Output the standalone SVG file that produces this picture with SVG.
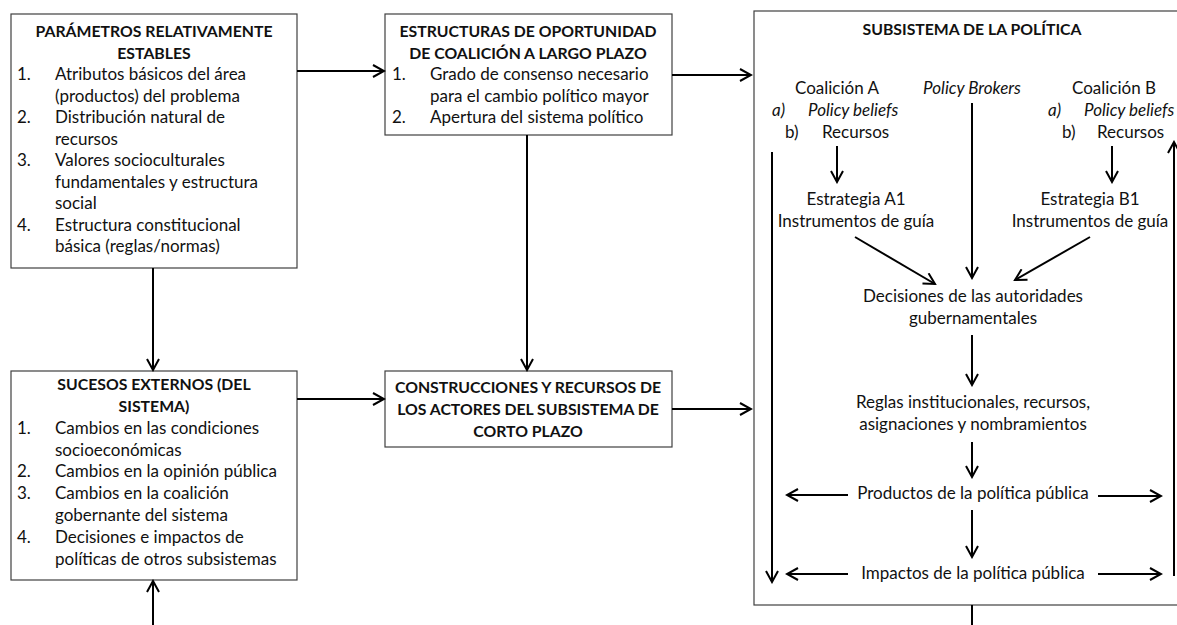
<svg xmlns="http://www.w3.org/2000/svg" width="1177" height="625" viewBox="0 0 1177 625">
<style>
text{font-family:Lato,"Liberation Sans",sans-serif;font-size:17px;fill:#111}
.b{font-weight:bold;font-size:15.8px}
.c{text-anchor:middle}
.i{font-style:italic}
.box{fill:#fff;stroke:#404040;stroke-width:1.2}
.cn{fill:none;stroke:#000;stroke-width:2;marker-end:url(#ah)}
.ln{fill:none;stroke:#000;stroke-width:2}
</style>
<defs>
<marker id="ah" viewBox="-13 -7 15 14" refX="0" refY="0" markerWidth="15" markerHeight="14" markerUnits="userSpaceOnUse" orient="auto">
<path d="M-11,-6 L0,0 L-11,6" fill="none" stroke="#000" stroke-width="2"/>
</marker>
</defs>
<rect width="1177" height="625" fill="#fff"/>

<g id="parametros">
<rect class="box" x="11" y="14" width="286" height="254"/>
<text class="b c" x="154" y="37">PARÁMETROS RELATIVAMENTE</text>
<text class="b c" x="154" y="58.5">ESTABLES</text>
<text x="17" y="80">1.</text><text x="55" y="80">Atributos básicos del área</text>
<text x="55" y="101.5">(productos) del problema</text>
<text x="17" y="123">2.</text><text x="55" y="123">Distribución natural de</text>
<text x="55" y="144.5">recursos</text>
<text x="17" y="166">3.</text><text x="55" y="166">Valores socioculturales</text>
<text x="55" y="187.5">fundamentales y estructura</text>
<text x="55" y="209">social</text>
<text x="17" y="230.5">4.</text><text x="55" y="230.5">Estructura constitucional</text>
<text x="55" y="252">básica (reglas/normas)</text>
</g>

<g id="estructuras">
<rect class="box" x="385" y="14" width="287" height="121"/>
<text class="b c" x="528" y="37">ESTRUCTURAS DE OPORTUNIDAD</text>
<text class="b c" x="528" y="58.5">DE COALICIÓN A LARGO PLAZO</text>
<text x="392" y="80">1.</text><text x="430" y="80">Grado de consenso necesario</text>
<text x="430" y="101.5">para el cambio político mayor</text>
<text x="392" y="123">2.</text><text x="430" y="123">Apertura del sistema político</text>
</g>

<g id="sucesos">
<rect class="box" x="11" y="371" width="286" height="209"/>
<text class="b c" x="154" y="390">SUCESOS EXTERNOS (DEL</text>
<text class="b c" x="154" y="412">SISTEMA)</text>
<text x="17" y="434">1.</text><text x="55" y="434">Cambios en las condiciones</text>
<text x="55" y="455.5">socioeconómicas</text>
<text x="17" y="477">2.</text><text x="55" y="477">Cambios en la opinión pública</text>
<text x="17" y="499">3.</text><text x="55" y="499">Cambios en la coalición</text>
<text x="55" y="521">gobernante del sistema</text>
<text x="17" y="543">4.</text><text x="55" y="543">Decisiones e impactos de</text>
<text x="55" y="564.5">políticas de otros subsistemas</text>
</g>

<g id="construcciones">
<rect class="box" x="385" y="371" width="287" height="76"/>
<text class="b c" x="528" y="393">CONSTRUCCIONES Y RECURSOS DE</text>
<text class="b c" x="528" y="415">LOS ACTORES DEL SUBSISTEMA DE</text>
<text class="b c" x="528" y="437">CORTO PLAZO</text>
</g>

<g id="subsistema">
<rect class="box" x="754" y="11" width="440" height="594"/>
<text class="b c" x="972" y="35">SUBSISTEMA DE LA POLÍTICA</text>
<g id="coalicionA">
<text class="c" x="837" y="94">Coalición A</text>
<text class="i" x="772" y="116">a)</text><text class="i" x="808" y="116">Policy beliefs</text>
<text x="785" y="138">b)</text><text x="822" y="138">Recursos</text>
</g>
<g id="brokers">
<text class="c i" x="972" y="94">Policy Brokers</text>
</g>
<g id="coalicionB">
<text class="c" x="1114" y="94">Coalición B</text>
<text class="i" x="1048" y="116">a)</text><text class="i" x="1084" y="116">Policy beliefs</text>
<text x="1062" y="138">b)</text><text x="1097" y="138">Recursos</text>
</g>
<g id="estrategiaA">
<text class="c" x="856" y="205">Estrategia A1</text>
<text class="c" x="856" y="227">Instrumentos de guía</text>
</g>
<g id="estrategiaB">
<text class="c" x="1090" y="205">Estrategia B1</text>
<text class="c" x="1090" y="227">Instrumentos de guía</text>
</g>
<g id="decisiones">
<text class="c" x="973" y="302">Decisiones de las autoridades</text>
<text class="c" x="973" y="324">gubernamentales</text>
</g>
<g id="reglas">
<text class="c" x="973" y="408">Reglas institucionales, recursos,</text>
<text class="c" x="973" y="430">asignaciones y nombramientos</text>
</g>
<g id="productos">
<text class="c" x="973" y="499">Productos de la política pública</text>
</g>
<g id="impactos">
<text class="c" x="973" y="579">Impactos de la política pública</text>
</g>
</g>

<g id="connectors">
<line class="cn" x1="297" y1="71" x2="384" y2="71"/>
<line class="cn" x1="672" y1="75" x2="751" y2="75"/>
<line class="cn" x1="297" y1="399" x2="384" y2="399"/>
<line class="cn" x1="672" y1="409" x2="751" y2="409"/>
<line class="cn" x1="153" y1="268" x2="153" y2="370"/>
<line class="cn" x1="153" y1="625" x2="153" y2="581"/>
<line class="cn" x1="527" y1="135" x2="527" y2="370"/>
<line class="ln" x1="972" y1="605" x2="972" y2="625"/>
<line class="cn" x1="837" y1="146" x2="837" y2="182"/>
<line class="cn" x1="1112" y1="146" x2="1112" y2="182"/>
<line class="cn" x1="972" y1="103" x2="972" y2="278"/>
<line class="cn" x1="855" y1="237" x2="935" y2="284"/>
<line class="cn" x1="1090" y1="237" x2="1015" y2="280"/>
<line class="cn" x1="972" y1="335" x2="972" y2="385"/>
<line class="cn" x1="972" y1="442" x2="972" y2="477"/>
<line class="cn" x1="972" y1="510" x2="972" y2="557"/>
<line class="cn" x1="848" y1="495" x2="787" y2="495"/>
<line class="cn" x1="1098" y1="496" x2="1161" y2="496"/>
<line class="cn" x1="848" y1="574" x2="787" y2="574"/>
<line class="cn" x1="1098" y1="574" x2="1161" y2="574"/>
<line class="cn" x1="772" y1="152" x2="772" y2="582"/>
<line class="cn" x1="1174" y1="576" x2="1174" y2="142"/>
</g>
</svg>
